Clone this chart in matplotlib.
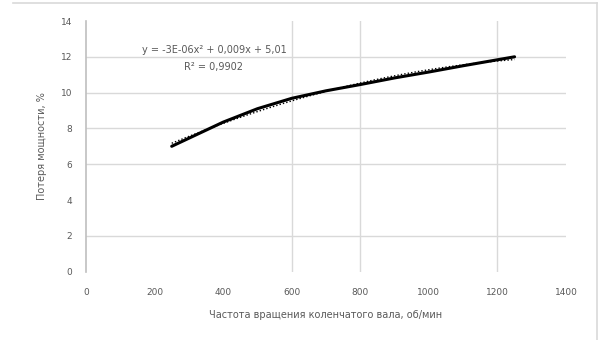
import numpy as np
import matplotlib
matplotlib.use("Agg")
import matplotlib.pyplot as plt
from matplotlib.lines import Line2D

# Data
rpm = [250, 400, 500, 600, 700, 800, 900, 1000, 1100, 1250]
loss = [7.0, 8.35, 9.1, 9.68, 10.1, 10.45, 10.82, 11.15, 11.5, 12.0]
xticks = [0, 200, 400, 600, 800, 1000, 1200, 1400]
yticks = [0, 2, 4, 6, 8, 10, 12, 14]
vgrid = [600, 800, 1200]
hgrid = [2, 6, 8, 10, 12]
eq_text = "y = -3E-06x² + 0,009x + 5,01"
r2_text = "R² = 0,9902"
xlabel = "Частота вращения коленчатого вала, об/мин"
ylabel = "Потеря мощности, %"

plt.rcParams['font.family'] = ['DejaVu Sans']
fig = plt.figure(figsize=(6.03, 3.40), dpi=100)
ax = fig.add_axes([86/603, 1-271.6/340, 480/603, 250.6/340])

gc = '#d9d9d9'
for v in vgrid:
    ax.axvline(v, color=gc, lw=1.0, zorder=0)
for h in hgrid:
    ax.axhline(h, color=gc, lw=1.0, zorder=0)

ax.plot(rpm, loss, color='black', lw=2.2, solid_capstyle='round',
        solid_joinstyle='round', zorder=3)
coef = np.polyfit(rpm, loss, 2)
xs = np.linspace(rpm[0], rpm[-1], 200)
ax.plot(xs, np.polyval(coef, xs), color='black', lw=1.0, ls=(0, (1, 1.5)), zorder=4)

ax.set_xlim(0, 1400)
ax.set_ylim(0, 14)
ax.set_xticks(xticks)
ax.set_yticks(yticks)
tc = '#595959'
ax.tick_params(axis='both', length=0, labelsize=6.5, colors=tc)
ax.tick_params(axis='y', pad=10)
ax.tick_params(axis='x', pad=12)
for s in ['top', 'right', 'bottom']:
    ax.spines[s].set_visible(False)
ax.spines['left'].set_color('#bfbfbf')
ax.spines['left'].set_linewidth(1.2)

ax.set_xlabel(xlabel, fontsize=7, color=tc, labelpad=9)
ax.set_ylabel(ylabel, fontsize=7, color=tc, labelpad=10)

ax.text(214/603, 1-50/340, eq_text, transform=fig.transFigure, fontsize=7,
        color=tc, ha='center', va='center')
ax.text(214/603, 1-67/340, r2_text, transform=fig.transFigure, fontsize=7,
        color=tc, ha='center', va='center')

# chart frame (top and right edges visible)
fig.add_artist(Line2D([13/603, 597/603], [1-3/340, 1-3/340], color='#d9d9d9', lw=1.2,
                      transform=fig.transFigure))
fig.add_artist(Line2D([597/603, 597/603], [1-3/340, 0], color='#d9d9d9', lw=1.2,
                      transform=fig.transFigure))

fig.savefig('out.png', dpi=100)
